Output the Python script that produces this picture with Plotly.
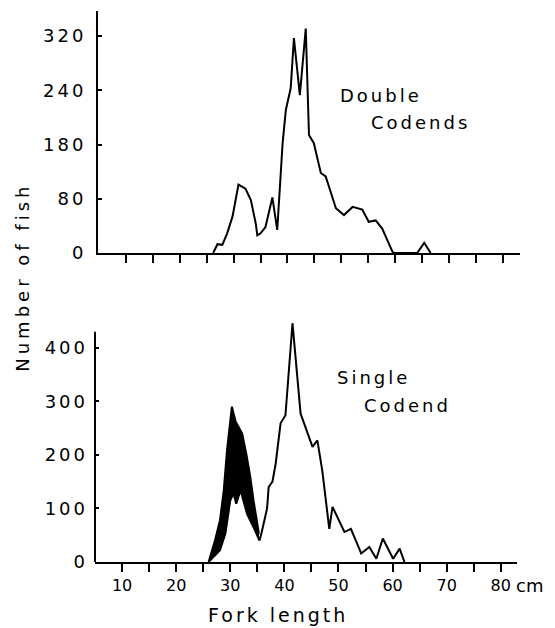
import plotly.graph_objects as go

# ---- data ----
double_x = [26.2, 27.0, 27.9, 28.8, 29.8, 30.4, 30.9, 32.2, 33.2, 34.1, 34.4, 35.0, 35.9,
            37.2, 38.1, 39.1, 39.7, 40.6, 41.2, 42.3, 43.4, 44.0, 44.9, 46.2, 47.1, 49.0,
            50.5, 52.1, 53.9, 55.1, 56.4, 57.6, 59.5, 59.8, 64.1, 65.4, 66.6]
double_y = [0, 13, 12, 29, 54, 78, 101, 95, 78, 44, 26, 29, 38,
            82, 34, 162, 211, 243, 317, 233, 331, 174, 162, 118, 113, 66,
            56, 68, 64, 46, 48, 36, 2, 0, 0, 15, 0]

band_upper_x = [26.0, 27.2, 28.1, 28.8, 29.4, 30.3, 31.0, 32.2, 33.0, 33.7, 34.3, 35.3]
band_upper_y = [0, 41, 78, 134, 209, 290, 262, 240, 200, 159, 115, 53]
band_lower_x = [26.0, 28.1, 29.1, 30.0, 30.6, 31.1, 31.9, 33.1, 34.3, 35.4]
band_lower_y = [0, 22, 53, 115, 128, 109, 134, 90, 65, 40]

single_x = [35.4, 35.8, 36.8, 37.1, 37.8, 38.4, 39.3, 40.2, 41.5, 43.0, 45.2, 46.1, 47.0,
            48.3, 48.9, 51.1, 52.3, 54.2, 55.7, 57.0, 58.2, 60.1, 61.3, 62.2]
single_y = [40, 55, 100, 140, 150, 184, 259, 274, 446, 277, 215, 227, 171,
            62, 103, 56, 62, 16, 28, 6, 44, 6, 25, 0]

x_tick_vals = [10, 15, 20, 25, 30, 35, 40, 45, 50, 55, 60, 65, 70, 75, 80]
x_tick_text = ["10", "", "20", "", "30", "", "40", "", "50", "", "60", "", "70", "", "80"]
top_y_tick_vals = [0, 80, 160, 240, 320]
top_y_tick_text = ["0", "80", "180", "240", "320"]
bot_y_tick_vals = [0, 100, 200, 300, 400]
bot_y_tick_text = ["0", "100", "200", "300", "400"]

FONT = "DejaVu Sans"


def spaced(t, px):
    return f'<span style="letter-spacing:{px}px">{t}</span>'


fig = go.Figure()
LINE = dict(color="black", width=2)

fig.add_trace(go.Scatter(x=double_x, y=double_y, mode="lines", line=LINE,
                         xaxis="x", yaxis="y", showlegend=False))
fig.add_trace(go.Scatter(x=band_lower_x, y=band_lower_y, mode="lines", line=LINE,
                         xaxis="x2", yaxis="y2", showlegend=False))
fig.add_trace(go.Scatter(x=band_upper_x, y=band_upper_y, mode="lines", line=LINE,
                         fill="tonexty", fillcolor="black",
                         xaxis="x2", yaxis="y2", showlegend=False))
fig.add_trace(go.Scatter(x=single_x, y=single_y, mode="lines", line=LINE,
                         xaxis="x2", yaxis="y2", showlegend=False))

xcommon = dict(tickvals=x_tick_vals, showgrid=False, zeroline=False, showline=True,
               linecolor="black", linewidth=2, ticks="outside", ticklen=8, tickwidth=2,
               tickcolor="black")
ycommon = dict(showgrid=False, zeroline=False, ticks="inside", ticklen=4, tickwidth=1.5,
               tickcolor="black", ticklabelstandoff=6,
               tickfont=dict(family=FONT, size=18, color="black"))

fig.update_layout(
    width=555, height=628,
    margin=dict(l=95, r=35, t=11, b=66),
    paper_bgcolor="white", plot_bgcolor="white",
    xaxis=dict(**xcommon, domain=[0.007, 1.0], range=[4.8, 83.2], anchor="y",
               ticktext=["" for _ in x_tick_text]),
    yaxis=dict(**ycommon, domain=[0.5608, 1.0], range=[0, 357], anchor="x",
               tickvals=top_y_tick_vals,
               ticktext=[spaced(t, 3) for t in top_y_tick_text],
               showline=True, linecolor="black", linewidth=2),
    xaxis2=dict(**xcommon, domain=[0.0, 0.993], range=[5, 83], anchor="y2",
                ticktext=x_tick_text,
                tickfont=dict(family=FONT, size=16, color="black")),
    yaxis2=dict(**ycommon, domain=[0.0, 0.4392], range=[0, 452], anchor="x2",
                tickvals=bot_y_tick_vals,
                ticktext=[spaced(t, 3) for t in bot_y_tick_text],
                showline=False),
)

# bottom y-axis line (stops below the tallest peak, as in the original)
fig.add_shape(type="line", xref="x2 domain", yref="y2", x0=0, x1=0, y0=0, y1=430,
              line=dict(color="black", width=2))

ann_font = dict(family=FONT, size=18, color="black")
fig.add_annotation(xref="x", yref="y", x=57.4, y=233, text=spaced("Double", 3),
                   showarrow=False, font=ann_font)
fig.add_annotation(xref="x", yref="y", x=64.8, y=192, text=spaced("Codends", 3),
                   showarrow=False, font=ann_font)
fig.add_annotation(xref="x2", yref="y2", x=56.4, y=344, text=spaced("Single", 3),
                   showarrow=False, font=ann_font)
fig.add_annotation(xref="x2", yref="y2", x=62.8, y=292, text=spaced("Codend", 3),
                   showarrow=False, font=ann_font)
fig.add_annotation(xref="x2", yref="y2", x=80, y=0, xanchor="left", yanchor="middle",
                   xshift=13, yshift=-23, text="cm", showarrow=False,
                   font=dict(family=FONT, size=18, color="black"))
# axis titles
fig.add_annotation(xref="paper", yref="paper", x=-0.1726, y=0.517, textangle=-90,
                   xanchor="center", yanchor="middle",
                   text=spaced("Number of fish", 4), showarrow=False,
                   font=dict(family=FONT, size=18, color="black"))
fig.add_annotation(xref="paper", yref="paper", x=0.43, y=-0.0962,
                   xanchor="center", yanchor="middle",
                   text=spaced("Fork length", 3), showarrow=False,
                   font=dict(family=FONT, size=19, color="black"))

fig.write_html("out.html")
